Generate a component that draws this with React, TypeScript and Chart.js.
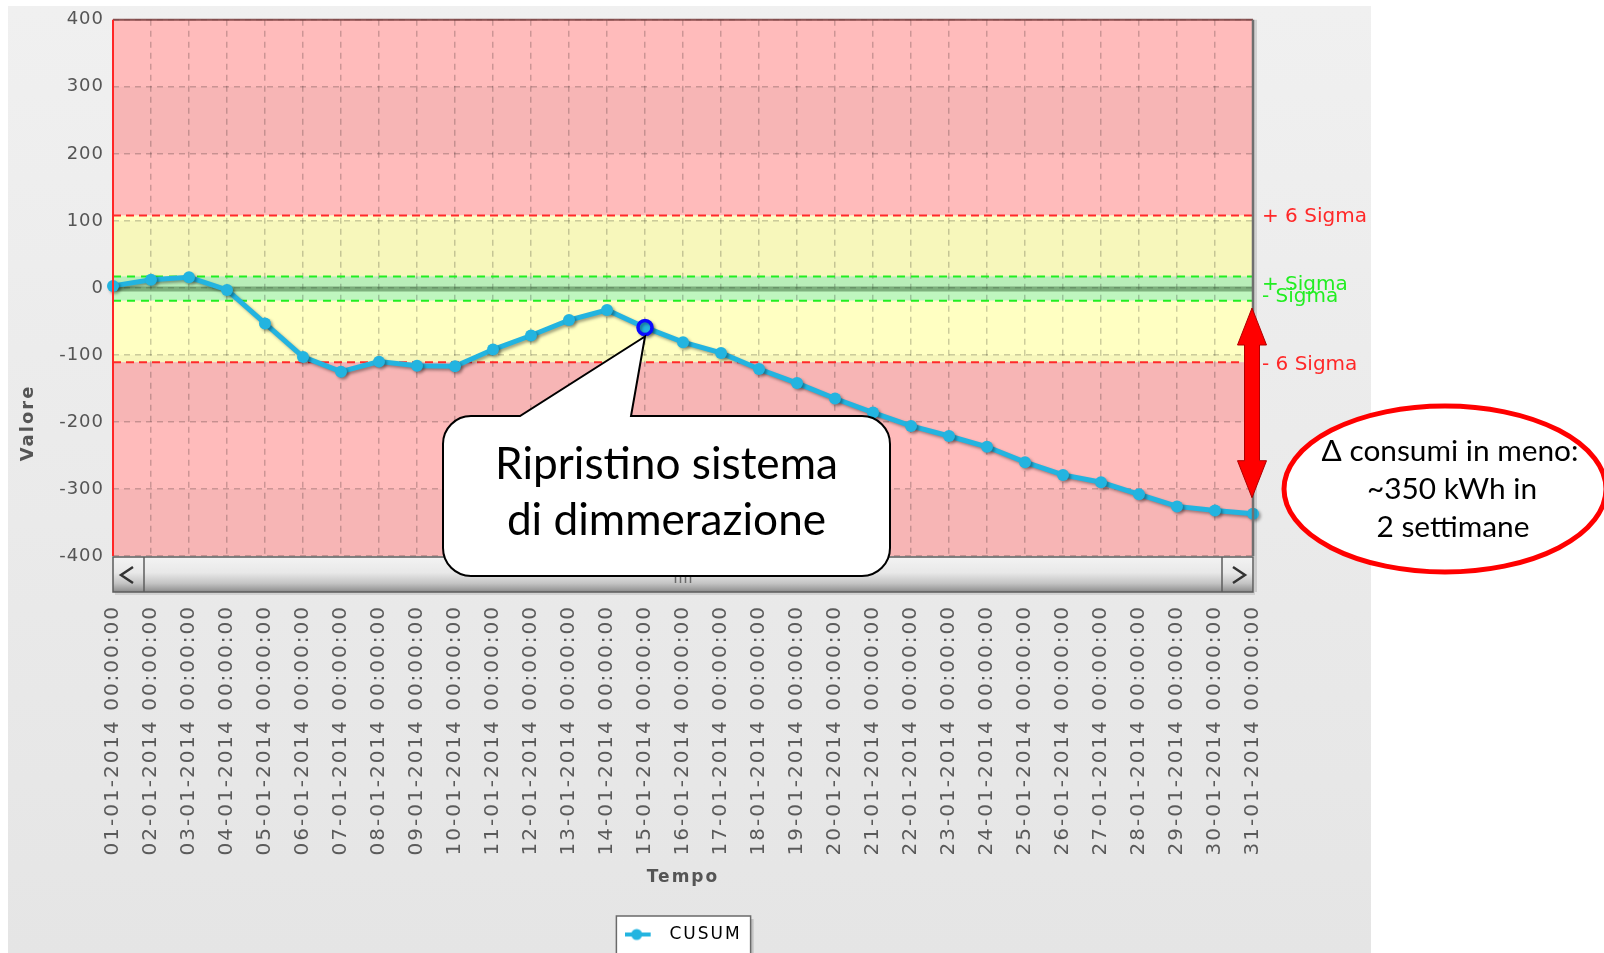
import React, { useEffect, useRef } from 'react';
import { Chart, registerables } from 'chart.js';

Chart.register(...registerables);

// ---------------- data ----------------
const CATEGORIES = [
  '01-01-2014 00:00:00', '02-01-2014 00:00:00', '03-01-2014 00:00:00', '04-01-2014 00:00:00',
  '05-01-2014 00:00:00', '06-01-2014 00:00:00', '07-01-2014 00:00:00', '08-01-2014 00:00:00',
  '09-01-2014 00:00:00', '10-01-2014 00:00:00', '11-01-2014 00:00:00', '12-01-2014 00:00:00',
  '13-01-2014 00:00:00', '14-01-2014 00:00:00', '15-01-2014 00:00:00', '16-01-2014 00:00:00',
  '17-01-2014 00:00:00', '18-01-2014 00:00:00', '19-01-2014 00:00:00', '20-01-2014 00:00:00',
  '21-01-2014 00:00:00', '22-01-2014 00:00:00', '23-01-2014 00:00:00', '24-01-2014 00:00:00',
  '25-01-2014 00:00:00', '26-01-2014 00:00:00', '27-01-2014 00:00:00', '28-01-2014 00:00:00',
  '29-01-2014 00:00:00', '30-01-2014 00:00:00', '31-01-2014 00:00:00',
];

const CUSUM = [
  3, 12, 16, -3, -53, -103, -125, -110, -116, -117, -92, -71, -48, -33, -59,
  -81, -97, -121, -142, -165, -186, -206, -221, -237, -260, -279, -290, -308, -326, -332, -337,
];

const SERIES_NAME = 'CUSUM';
const Y_MIN = -400;
const Y_MAX = 400;
const Y_STEP = 100;

const SIGMA_LABELS = ['+ 6 Sigma', '+ Sigma', '- Sigma', '- 6 Sigma'];
const SIGMA_VALUES = [108, 17, -19, -111];
const MEAN_VALUE = -1.5;

const HIGHLIGHT_INDEX = 14;
const CALLOUT_LINES = ['Ripristino sistema', 'di dimmerazione'];
const NOTE_LINES = ['\u0394 consumi in meno:', '~350 kWh in', '2 settimane'];
const ARROW_RANGE = [-30, -313];

const X_TITLE = 'Tempo';
const Y_TITLE = 'Valore';

// ---------------- styles ----------------
const W = 1604;
const H = 953;
const CYAN = '#23b4e0';
const SPACING = '2px';
const FONT = "'DejaVu Sans', sans-serif";
const NOTE_FONT = "Lato, 'Noto Sans', sans-serif";

function makeMarker(): HTMLCanvasElement {
  const c = document.createElement('canvas');
  c.width = 36;
  c.height = 14;
  const g = c.getContext('2d')!;
  g.strokeStyle = CYAN;
  g.lineWidth = 4;
  g.beginPath();
  g.moveTo(0, 7);
  g.lineTo(26, 7);
  g.stroke();
  g.fillStyle = CYAN;
  g.beginPath();
  g.arc(12, 7, 5.5, 0, Math.PI * 2);
  g.fill();
  return c;
}

function line(ctx: CanvasRenderingContext2D, x1: number, y1: number, x2: number, y2: number) {
  ctx.beginPath();
  ctx.moveTo(x1, y1);
  ctx.lineTo(x2, y2);
  ctx.stroke();
}

function fitFont(ctx: CanvasRenderingContext2D, text: string, target: number, family: string) {
  ctx.font = `40px ${family}`;
  const w = ctx.measureText(text).width;
  return (40 * target) / w;
}

const chartPlugin = {
  id: 'cusumDecor',
  beforeUpdate(chart: any) {
    chart.ctx.letterSpacing = SPACING;
  },
  beforeLayout(chart: any) {
    chart.ctx.letterSpacing = SPACING;
  },
  beforeDraw(chart: any) {
    const { ctx, chartArea: a, scales } = chart;
    const y = scales.y;
    ctx.letterSpacing = SPACING;
    ctx.save();
    ctx.letterSpacing = '0px';
    ctx.fillStyle = '#ffffff';
    ctx.fillRect(0, 0, W, H);
    // gray panel
    const pg = ctx.createLinearGradient(0, 6, 0, H);
    pg.addColorStop(0, '#f0f0f0');
    pg.addColorStop(1, '#e5e5e5');
    ctx.fillStyle = pg;
    ctx.fillRect(8, 6, 1363, H - 6);

    const yp = (v: number) => y.getPixelForValue(v);
    const band = (v1: number, v2: number, color: string) => {
      const t = yp(v1);
      const b = yp(v2);
      ctx.fillStyle = color;
      ctx.fillRect(a.left, t, a.right - a.left, b - t);
    };
    const [p6, p1, m1, m6] = SIGMA_VALUES;
    band(Y_MAX, p6, '#ffbbbb');
    band(p6, p1, '#ffffc2');
    band(p1, m1, '#bff6bf');
    band(m1, m6, '#ffffc2');
    band(m6, Y_MIN, '#ffbbbb');
    for (let v = Y_MAX - Y_STEP; v > Y_MIN; v -= 2 * Y_STEP) {
      band(v, v - Y_STEP, 'rgba(0,0,0,0.03)');
    }

    // legend frame
    const lg = chart.legend;
    if (lg && lg.legendHitBoxes && lg.legendHitBoxes[0]) {
      const hb = lg.legendHitBoxes[0];
      const bx = hb.left - 8;
      const bw = hb.width + 17;
      const by = lg.top;
      ctx.fillStyle = 'rgba(0,0,0,0.15)';
      ctx.fillRect(bx + 3, by + 3, bw, H);
      ctx.fillStyle = '#ffffff';
      ctx.fillRect(bx, by, bw, H);
      ctx.strokeStyle = '#6a6a6a';
      ctx.lineWidth = 1.5;
      ctx.strokeRect(bx, by, bw, H + 10);
    }
    ctx.restore();
  },
  beforeDatasetsDraw(chart: any) {
    const { ctx, chartArea: a, scales } = chart;
    const y = scales.y;
    ctx.save();
    ctx.letterSpacing = '0px';
    // mean line
    ctx.strokeStyle = 'rgba(60,105,60,0.5)';
    ctx.lineWidth = 5;
    line(ctx, a.left, y.getPixelForValue(MEAN_VALUE), a.right, y.getPixelForValue(MEAN_VALUE));
    // sigma lines
    SIGMA_VALUES.forEach((v, i) => {
      const red = i === 0 || i === 3;
      ctx.strokeStyle = red ? '#ff2a2a' : '#22ee22';
      ctx.lineWidth = 2;
      ctx.setLineDash(red ? [8, 5] : [8, 6]);
      const py = y.getPixelForValue(v);
      line(ctx, a.left, py, a.right, py);
    });
    ctx.restore();
    ctx.save();
    ctx.shadowColor = 'rgba(0,0,0,0.35)';
    ctx.shadowBlur = 3;
    ctx.shadowOffsetX = 2;
    ctx.shadowOffsetY = 2;
  },
  afterDatasetsDraw(chart: any) {
    chart.ctx.restore();
  },
  afterDraw(chart: any) {
    const { ctx, chartArea: a, scales } = chart;
    const y = scales.y;
    ctx.save();
    ctx.letterSpacing = '0px';
    ctx.setLineDash([]);

    // plot borders
    ctx.strokeStyle = 'rgba(120,60,60,0.85)';
    ctx.lineWidth = 2;
    line(ctx, a.left, a.top, a.right, a.top);
    ctx.strokeStyle = '#ff2626';
    line(ctx, a.left, a.top, a.left, a.bottom);
    ctx.strokeStyle = 'rgba(0,0,0,0.12)';
    ctx.lineWidth = 3;
    line(ctx, a.right + 2.5, a.top, a.right + 2.5, a.bottom + 36);
    ctx.strokeStyle = '#6f6f6f';
    ctx.lineWidth = 2.5;
    line(ctx, a.right, a.top, a.right, a.bottom);

    // scrollbar
    const sx = a.left;
    const sy = a.bottom + 1;
    const sw = a.right - a.left;
    const sh = 35;
    ctx.fillStyle = 'rgba(0,0,0,0.10)';
    ctx.fillRect(sx + 2, sy + sh, sw, 3);
    const g = ctx.createLinearGradient(0, sy, 0, sy + sh);
    g.addColorStop(0, '#f3f3f3');
    g.addColorStop(0.45, '#e8e8e8');
    g.addColorStop(0.75, '#c4c4c4');
    g.addColorStop(0.92, '#9e9e9e');
    g.addColorStop(1, '#8a8a8a');
    ctx.fillStyle = g;
    ctx.fillRect(sx, sy, sw, sh);
    ctx.strokeStyle = '#5c5c5c';
    ctx.lineWidth = 1.5;
    ctx.strokeRect(sx, sy, sw, sh);
    line(ctx, sx + 31, sy, sx + 31, sy + sh);
    line(ctx, sx + sw - 31, sy, sx + sw - 31, sy + sh);
    ctx.strokeStyle = '#333';
    ctx.lineWidth = 2.5;
    ctx.beginPath();
    ctx.moveTo(sx + 20, sy + 10);
    ctx.lineTo(sx + 8, sy + 18);
    ctx.lineTo(sx + 20, sy + 26);
    ctx.stroke();
    ctx.beginPath();
    ctx.moveTo(sx + sw - 20, sy + 10);
    ctx.lineTo(sx + sw - 8, sy + 18);
    ctx.lineTo(sx + sw - 20, sy + 26);
    ctx.stroke();
    const cx = (a.left + a.right) / 2;
    ctx.strokeStyle = '#6a6a6a';
    ctx.lineWidth = 1.5;
    [-7.5, -2.5, 2.5, 7.5].forEach((d) => line(ctx, cx + d, sy + 20, cx + d, sy + 26));

    // sigma labels
    ctx.font = `20px ${FONT}`;
    ctx.letterSpacing = '0px';
    ctx.textAlign = 'left';
    ctx.textBaseline = 'middle';
    const nudge = [1, 8, -4, 2];
    SIGMA_VALUES.forEach((v, i) => {
      const red = i === 0 || i === 3;
      ctx.fillStyle = red ? '#ff2828' : '#22ee22';
      ctx.fillText(SIGMA_LABELS[i], a.right + 9, y.getPixelForValue(v) + nudge[i]);
    });

    // y title
    ctx.save();
    ctx.letterSpacing = SPACING;
    ctx.translate(28, 423);
    ctx.rotate(-Math.PI / 2);
    ctx.font = `bold 18px ${FONT}`;
    ctx.fillStyle = '#555';
    ctx.textAlign = 'center';
    ctx.fillText(Y_TITLE, 0, 0);
    ctx.restore();
    ctx.letterSpacing = '0px';

    // callout
    const pt = chart.getDatasetMeta(0).data[HIGHLIGHT_INDEX];
    const bx = 443, by = 416, bw = 447, bh = 160, r = 28;
    const tipX = pt.x;
    const tipY = pt.y + 9;
    ctx.beginPath();
    ctx.moveTo(bx + r, by);
    ctx.lineTo(tipX - 125, by);
    ctx.lineTo(tipX, tipY);
    ctx.lineTo(tipX - 14, by);
    ctx.lineTo(bx + bw - r, by);
    ctx.arcTo(bx + bw, by, bx + bw, by + r, r);
    ctx.lineTo(bx + bw, by + bh - r);
    ctx.arcTo(bx + bw, by + bh, bx + bw - r, by + bh, r);
    ctx.lineTo(bx + r, by + bh);
    ctx.arcTo(bx, by + bh, bx, by + bh - r, r);
    ctx.lineTo(bx, by + r);
    ctx.arcTo(bx, by, bx + r, by, r);
    ctx.closePath();
    ctx.fillStyle = '#ffffff';
    ctx.fill();
    ctx.strokeStyle = '#000';
    ctx.lineWidth = 2;
    ctx.stroke();
    const cs = fitFont(ctx, CALLOUT_LINES[0], 343, NOTE_FONT);
    ctx.font = `${cs}px ${NOTE_FONT}`;
    ctx.fillStyle = '#000';
    ctx.textAlign = 'center';
    ctx.textBaseline = 'alphabetic';
    ctx.fillText(CALLOUT_LINES[0], bx + bw / 2, 479);
    ctx.fillText(CALLOUT_LINES[1], bx + bw / 2, 535);

    // double arrow
    const ax = a.right - 1;
    const at = y.getPixelForValue(ARROW_RANGE[0]);
    const ab = y.getPixelForValue(ARROW_RANGE[1]);
    const hw = 14.5, shw = 7.5, hl = 37;
    ctx.beginPath();
    ctx.moveTo(ax, at);
    ctx.lineTo(ax + hw, at + hl);
    ctx.lineTo(ax + shw, at + hl);
    ctx.lineTo(ax + shw, ab - hl);
    ctx.lineTo(ax + hw, ab - hl);
    ctx.lineTo(ax, ab);
    ctx.lineTo(ax - hw, ab - hl);
    ctx.lineTo(ax - shw, ab - hl);
    ctx.lineTo(ax - shw, at + hl);
    ctx.lineTo(ax - hw, at + hl);
    ctx.closePath();
    ctx.fillStyle = '#ff0000';
    ctx.fill();
    ctx.strokeStyle = '#b00000';
    ctx.lineWidth = 1;
    ctx.stroke();

    // ellipse note
    ctx.beginPath();
    ctx.ellipse(1445, 489, 161, 83, 0, 0, Math.PI * 2);
    ctx.fillStyle = '#ffffff';
    ctx.fill();
    ctx.strokeStyle = '#ff0000';
    ctx.lineWidth = 5;
    ctx.stroke();
    const ns = fitFont(ctx, NOTE_LINES[0], 257, NOTE_FONT);
    ctx.font = `${ns}px ${NOTE_FONT}`;
    ctx.fillStyle = '#000';
    ctx.textAlign = 'center';
    ctx.fillText(NOTE_LINES[0], 1450, 461);
    ctx.fillText(NOTE_LINES[1], 1452, 499);
    ctx.fillText(NOTE_LINES[2], 1453, 537);

    ctx.restore();
  },
};

export default function App() {
  const ref = useRef<HTMLCanvasElement | null>(null);

  useEffect(() => {
    const canvas = ref.current;
    if (!canvas) return;
    const marker = makeMarker();
    const gridOpts = { color: 'rgba(0,0,0,0.2)', lineWidth: 1.5, drawTicks: false };
    const chart = new Chart(canvas, {
      type: 'line',
      data: {
        labels: CATEGORIES,
        datasets: [
          {
            label: SERIES_NAME,
            data: CUSUM,
            yAxisID: 'y',
            borderColor: CYAN,
            backgroundColor: CYAN,
            borderWidth: 5,
            tension: 0,
            fill: false,
            clip: false as any,
            pointRadius: (c: any) => (c.dataIndex === HIGHLIGHT_INDEX ? 7 : 6),
            pointBorderWidth: (c: any) => (c.dataIndex === HIGHLIGHT_INDEX ? 3.5 : 0),
            pointBorderColor: (c: any) => (c.dataIndex === HIGHLIGHT_INDEX ? '#0a0aff' : CYAN),
            pointBackgroundColor: CYAN,
          },
        ],
      },
      options: {
        responsive: false,
        animation: false,
        devicePixelRatio: 1,
        events: [],
        font: { family: FONT },
        layout: { padding: { left: 0, right: 238, top: 15, bottom: 0 } },
        plugins: {
          tooltip: { enabled: false },
          legend: {
            position: 'bottom',
            labels: {
              usePointStyle: true,
              pointStyleWidth: 36.5,
              padding: 10,
              color: '#555',
              font: { size: 17, family: FONT },
              generateLabels: () => [
                {
                  text: SERIES_NAME,
                  pointStyle: marker as any,
                  fillStyle: CYAN,
                  strokeStyle: CYAN,
                  lineWidth: 0,
                  hidden: false,
                  datasetIndex: 0,
                } as any,
              ],
            },
          },
        },
        scales: {
          x: {
            type: 'category',
            offset: false,
            grid: gridOpts,
            border: { display: false, dash: [6, 5] },
            ticks: {
              autoSkip: false,
              minRotation: 90,
              maxRotation: 90,
              padding: 49,
              color: '#5a5a5a',
              font: { size: 20, family: FONT },
            },
            title: {
              display: true,
              text: X_TITLE,
              color: '#555',
              font: { size: 17, weight: 'bold', family: FONT },
              padding: { top: 0, bottom: 28 },
            },
            afterFit: (s: any) => {
              s.height = 360;
            },
          },
          y: {
            position: 'left',
            min: Y_MIN,
            max: Y_MAX,
            grid: gridOpts,
            border: { display: false, dash: [6, 5] },
            ticks: {
              stepSize: Y_STEP,
              padding: 9,
              color: '#555',
              font: { size: 18, family: FONT },
            },
            afterFit: (s: any) => {
              s.width = 113;
            },
          },
          ySpacer: {
            type: 'linear',
            position: 'right',
            min: 0,
            max: 1,
            grid: { display: false, drawTicks: false },
            border: { display: false },
            ticks: { display: false },
            afterFit: (s: any) => {
              s.width = 113;
            },
          },
        },
      } as any,
      plugins: [chartPlugin as any],
    });

    // y tick labels use a tighter letter spacing than the rest of the chart
    const ys: any = chart.scales.y;
    const origDrawLabels = ys.drawLabels.bind(ys);
    ys.drawLabels = (area: any) => {
      const c = chart.ctx as any;
      c.save();
      c.letterSpacing = '1px';
      origDrawLabels(area);
      c.restore();
    };
    chart.draw();

    return () => {
      chart.destroy();
    };
  }, []);

  return (
    <div
      style={{
        position: 'fixed',
        left: 0,
        top: 0,
        width: W,
        height: H,
        overflow: 'hidden',
        background: '#fff',
      }}
    >
      <canvas ref={ref} width={W} height={H} style={{ display: 'block', width: W, height: H }} />
    </div>
  );
}
